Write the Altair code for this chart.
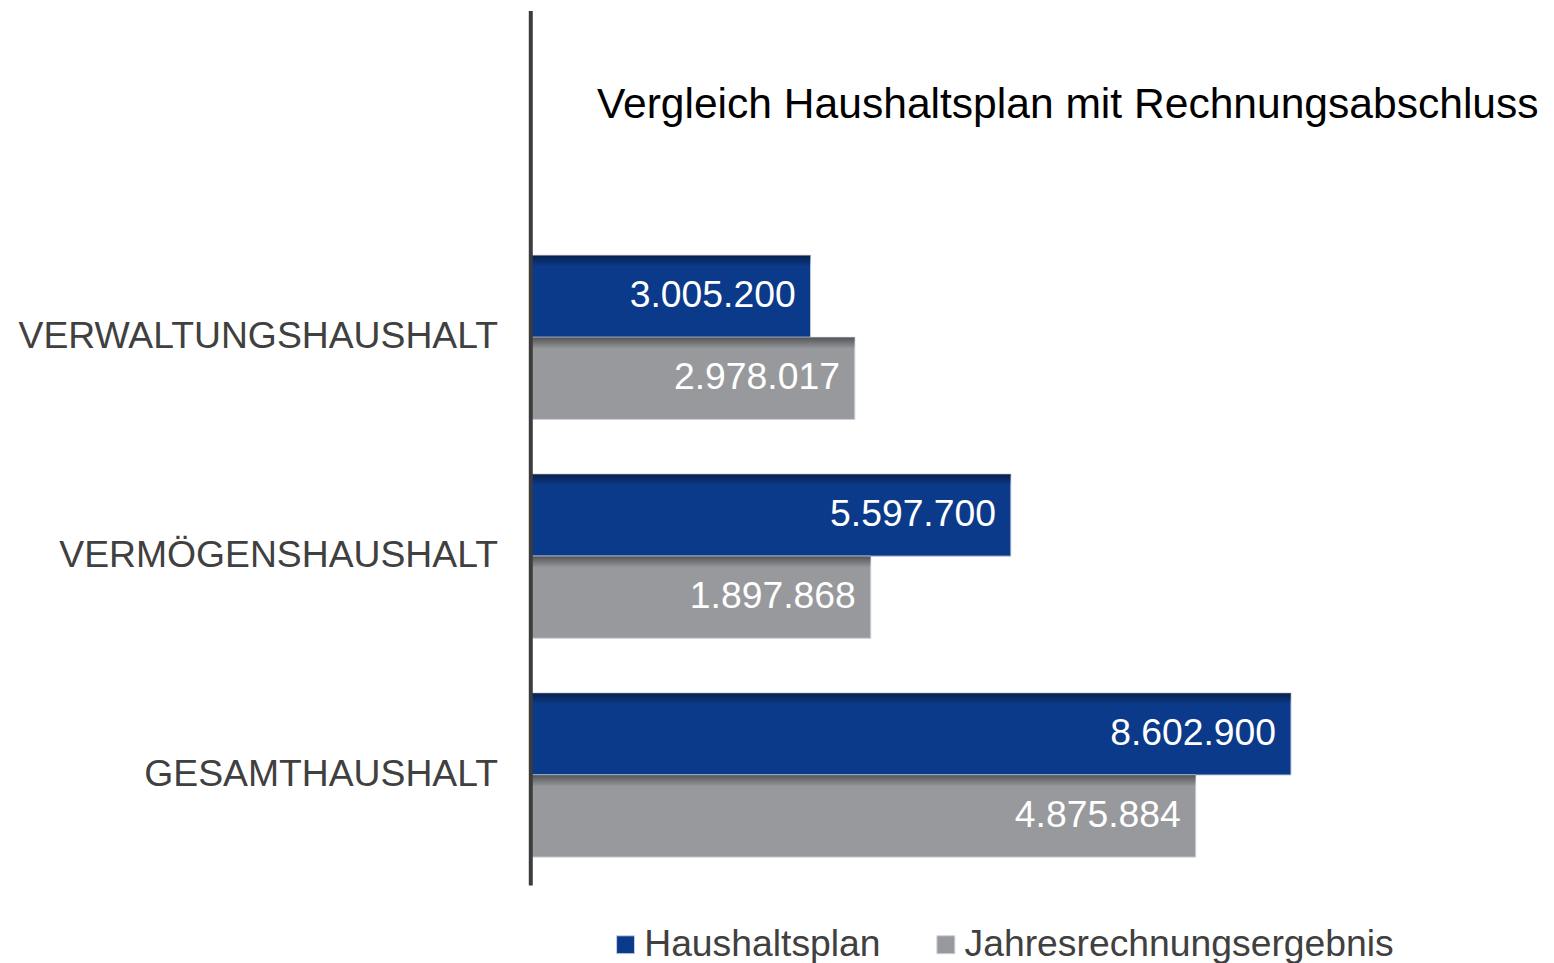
import altair as alt
import pandas as pd

# ---- data ----
categories = ["VERWALTUNGSHAUSHALT", "VERMÖGENSHAUSHALT", "GESAMTHAUSHALT"]
series = ["Haushaltsplan", "Jahresrechnungsergebnis"]
# printed values
plan_values = [3005200, 5597700, 8602900]
result_values = [2978017, 1897868, 4875884]
# bar lengths as drawn in the picture (same unit scale, longest bar = 8.602.900)
plan_drawn = [3170000, 5435000, 8602900]
result_drawn = [3670000, 3850000, 7525000]

rows = []
for i, cat in enumerate(categories):
    rows.append({"Bereich": cat, "Reihe": series[0], "Wert": plan_values[i], "Balken": plan_drawn[i]})
    rows.append({"Bereich": cat, "Reihe": series[1], "Wert": result_values[i], "Balken": result_drawn[i]})
df = pd.DataFrame(rows)
df["Text"] = df["Wert"].map(lambda v: f"{v:,}".replace(",", "."))

FONT = "Liberation Sans"
FS = 37.5

y = alt.Y(
    "Bereich:N",
    sort=categories,
    title=None,
    scale=alt.Scale(paddingInner=0.25, paddingOuter=0.6227, align=0.898),
    axis=alt.Axis(
        domainColor="#3c3c3c",
        domainWidth=4,
        ticks=False,
        labelFontSize=FS,
        labelFont=FONT,
        labelColor="#404040",
        labelPadding=33,
        labelLimit=800,
        zindex=1,
    ),
)
yoff = alt.YOffset("Reihe:N", sort=series, scale=alt.Scale(paddingInner=0, paddingOuter=0))
x = alt.X("Balken:Q", scale=alt.Scale(domain=[0, 11250000]), axis=None)

bars = alt.Chart(df).mark_bar(stroke="#c8d0de", strokeWidth=1).encode(
    x=x,
    y=y,
    yOffset=yoff,
    color=alt.Color(
        "Reihe:N",
        sort=series,
        scale=alt.Scale(domain=series, range=["#0c3a8b", "#98999c"]),
        legend=alt.Legend(
            title=None,
            orient="none",
            legendX=77,
            legendY=920,
            direction="horizontal",
            symbolType="square",
            symbolSize=324,
            symbolStrokeWidth=1,
            symbolStrokeColor="#c8d0de",
            labelFontSize=FS,
            labelFont=FONT,
            labelColor="#404040",
            labelLimit=800,
            labelOffset=0,
            columnPadding=46,
            padding=0,
        ),
    ),
)

shade = alt.Chart(df).mark_bar(
    color=alt.Gradient(
        gradient="linear",
        stops=[
            alt.GradientStop(color="rgba(0,0,0,0.45)", offset=0),
            alt.GradientStop(color="rgba(0,0,0,0)", offset=0.14),
            alt.GradientStop(color="rgba(0,0,0,0)", offset=1),
        ],
        x1=0, x2=0, y1=0, y2=1,
    )
).encode(x=x, y=y, yOffset=yoff)

labels = alt.Chart(df).mark_text(
    align="right", baseline="middle", dx=-15, color="white", fontSize=FS, font=FONT
).encode(x=x, y=y, yOffset=yoff, text="Text:N")

chart = (
    alt.layer(bars, shade, labels)
    .properties(
        width=1000,
        height=879,
        autosize="none",
        padding={"left": 525, "top": 0, "right": 21, "bottom": 76},
        title=alt.TitleParams(
            text="Vergleich Haushaltsplan mit Rechnungsabschluss",
            anchor="start",
            frame="group",
            orient="top",
            offset=0,
            dx=67,
            dy=151,
            baseline="alphabetic",
            fontSize=42.8,
            font=FONT,
            fontWeight="normal",
            color="#000000",
        ),
    )
    .configure_view(stroke=None)
)

chart.save("out.html", embed_options={"renderer": "svg", "actions": False})
